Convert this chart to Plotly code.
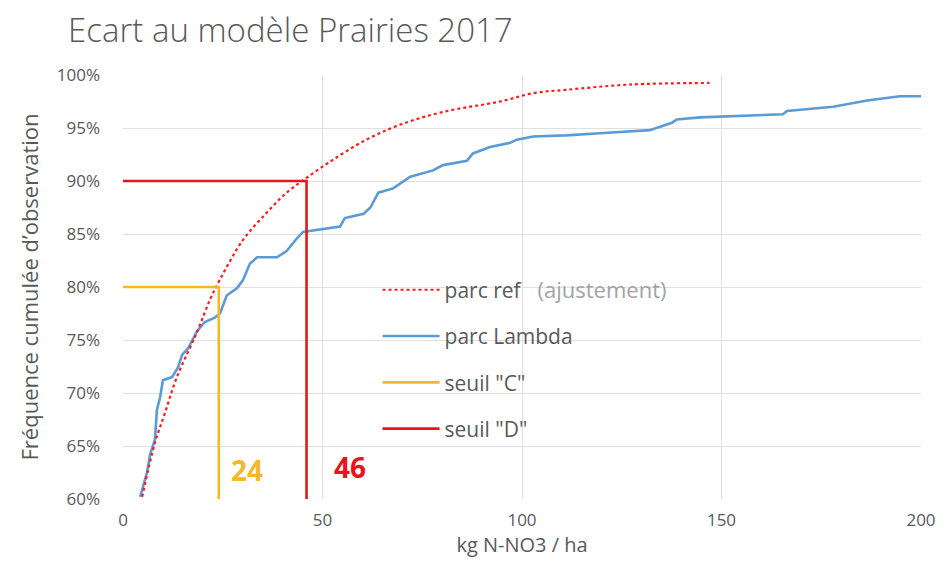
import plotly.graph_objects as go

# Data
lambda_x = [4.3, 6.0, 6.8, 8.0, 8.5, 9.3, 10.0, 12.3, 13.8, 14.8, 16.3, 18.5, 20.5, 23.0, 24.3,
            26.0, 28.6, 30.0, 31.8, 33.6, 38.6, 41.0, 43.6, 45.1, 54.4, 55.6, 60.3, 62.0, 64.0,
            67.7, 72.0, 77.7, 80.2, 86.2, 87.7, 92.0, 97.0, 98.7, 102.8, 111.0, 119.5, 127.0,
            132.0, 137.6, 138.8, 144.6, 165.4, 166.4, 178.0, 186.5, 194.7, 200.0]
lambda_y = [60.2, 62.5, 64.2, 65.6, 68.4, 69.6, 71.2, 71.5, 72.4, 73.6, 74.2, 75.8, 76.7, 77.1, 77.5,
            79.2, 79.9, 80.6, 82.2, 82.8, 82.8, 83.4, 84.6, 85.2, 85.7, 86.5, 86.9, 87.5, 88.9,
            89.3, 90.4, 91.0, 91.5, 91.9, 92.6, 93.2, 93.6, 93.9, 94.2, 94.3, 94.5, 94.7,
            94.8, 95.5, 95.8, 96.0, 96.3, 96.6, 97.0, 97.6, 98.0, 98.0]

ref_x = [4.8, 8.0, 10.5, 13.5, 18.5, 21.8, 24.3, 30.0, 36.0, 41.0, 46.0, 52.6, 61.0, 69.4,
         80.0, 94.5, 103.0, 111.0, 127.0, 147.0]
ref_y = [60.2, 65.3, 68.1, 71.5, 75.7, 78.8, 80.7, 84.4, 87.0, 88.9, 90.3, 92.0, 93.9, 95.3,
         96.5, 97.5, 98.3, 98.6, 99.1, 99.25]

seuil_c = 24
seuil_d = 46
seuil_c_pct = 80
seuil_d_pct = 90
y_min_pct = 60

x_ticks = [0, 50, 100, 150, 200]
y_ticks = [60, 65, 70, 75, 80, 85, 90, 95, 100]

BLUE = "#5B9BD5"
RED = "#FF1A1A"
REDD = "#E8141B"
YEL = "#F6B82A"
GRAY = "#595959"
FONT = "Open Sans"

fig = go.Figure()

fig.add_trace(go.Scatter(
    x=lambda_x, y=[v / 100 for v in lambda_y], mode="lines",
    line=dict(color=BLUE, width=2.6), name="parc Lambda",
    legendgroup="b", legendrank=2))

fig.add_trace(go.Scatter(
    x=ref_x, y=[v / 100 for v in ref_y], mode="lines", line_shape="spline",
    line=dict(color=RED, width=2.2, dash="dot"),
    name='parc ref <span style="color:#a3a3a3;font-size:22px;">&nbsp; (ajustement)</span>',
    legendgroup="a", legendrank=1))

fig.add_trace(go.Scatter(
    x=[0, seuil_c, seuil_c], y=[seuil_c_pct / 100, seuil_c_pct / 100, y_min_pct / 100],
    mode="lines", line=dict(color=YEL, width=2.6), name='seuil "C"',
    legendgroup="c", legendrank=3))

fig.add_trace(go.Scatter(
    x=[0, seuil_d, seuil_d], y=[seuil_d_pct / 100, seuil_d_pct / 100, y_min_pct / 100],
    mode="lines", line=dict(color=REDD, width=2.6), name='seuil "D"',
    legendgroup="d", legendrank=4))

fig.add_annotation(x=seuil_c, y=0.627, xref="x", yref="y", text=f"<b>{seuil_c}</b>",
                   showarrow=False, xanchor="left", xshift=10,
                   font=dict(family=FONT, size=28, color=YEL))
fig.add_annotation(x=seuil_d, y=0.63, xref="x", yref="y", text=f"<b>{seuil_d}</b>",
                   showarrow=False, xanchor="left", xshift=25,
                   font=dict(family=FONT, size=28, color=REDD))

fig.update_layout(
    width=939, height=564,
    margin=dict(l=115, r=26, t=67, b=73),
    paper_bgcolor="white", plot_bgcolor="white",
    font=dict(family=FONT, color=GRAY),
    title=dict(text="Ecart au modèle Prairies 2017", x=0.064, xanchor="left",
               xref="container", yref="container",
               y=0.96, yanchor="middle",
               font=dict(family=FONT, size=33, color=GRAY, weight=300)),
    legend=dict(x=0.319, y=0.541, xanchor="left", yanchor="top",
                bgcolor="rgba(255,255,255,0)", font=dict(family=FONT, size=21, color=GRAY),
                tracegroupgap=16, itemwidth=57),
    showlegend=True,
)

fig.update_xaxes(range=[0, 200], tickvals=x_ticks, showgrid=True, gridcolor="#E0E0E0",
                 gridwidth=1, zeroline=False, showline=False, ticks="",
                 ticklabelstandoff=9, automargin=False,
                 tickfont=dict(family=FONT, size=17, color=GRAY),
                 title=dict(text="kg N-NO3 / ha", font=dict(family=FONT, size=20, color=GRAY),
                            standoff=6))
fig.update_yaxes(range=[0.6, 1.0], tickvals=[v / 100 for v in y_ticks], tickformat=".0%",
                 showgrid=True, gridcolor="#E0E0E0", gridwidth=1, zeroline=False,
                 showline=False, ticks="", ticklabelstandoff=22, automargin=False,
                 tickfont=dict(family=FONT, size=17, color=GRAY),
                 title=dict(text="Fréquence cumulée d’observation",
                            font=dict(family=FONT, size=22, color=GRAY), standoff=12))

fig.write_html("out.html")
